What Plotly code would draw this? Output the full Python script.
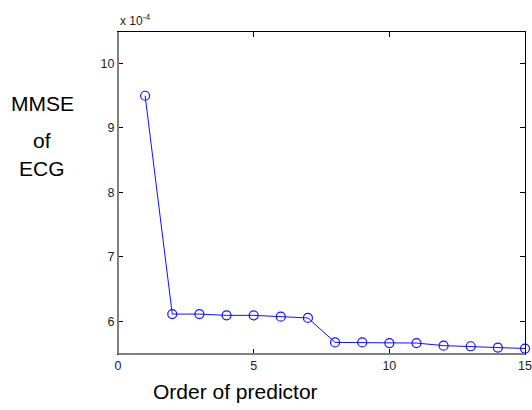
import plotly.graph_objects as go

# Order of predictor
order = list(range(1, 16))
# MMSE of ECG (in units of 1e-4)
mmse = [9.50, 6.11, 6.11, 6.09, 6.09, 6.07, 6.05, 5.67, 5.67, 5.66, 5.66, 5.62, 5.61, 5.59, 5.575]
x_ticks = [0, 5, 10, 15]
y_ticks = [6, 7, 8, 9, 10]

fig = go.Figure()
fig.add_trace(go.Scatter(
    x=order, y=mmse, mode="lines+markers",
    line=dict(color="#1010ff", width=1),
    marker=dict(symbol="circle-open", size=9, color="#1010ff", line=dict(width=1.2)),
    cliponaxis=False, showlegend=False,
))

axis_common = dict(
    showgrid=False, zeroline=False, showline=True, linecolor="black", linewidth=1,
    mirror="ticks", ticks="inside", ticklen=5, tickcolor="black", tickwidth=1,
    automargin=False,
    tickfont=dict(family="Arial, Liberation Sans, sans-serif", size=12.5, color="#222"),
)
fig.update_xaxes(range=[0, 15], tickvals=x_ticks, **axis_common)
fig.update_yaxes(range=[5.49, 10.49], tickvals=y_ticks, **axis_common)

# gray left/bottom axis lines
fig.add_shape(type="line", xref="paper", yref="paper", x0=0, x1=0, y0=0, y1=1,
              line=dict(color="#808080", width=2))
fig.add_shape(type="line", xref="paper", yref="paper", x0=0, x1=1, y0=0, y1=0,
              line=dict(color="#808080", width=2))

font_lbl = "Arial, Liberation Sans, sans-serif"
ann = []
ann.append(dict(text="x 10<sup>-4</sup>", xref="paper", yref="paper", x=0, y=1, xanchor="left",
                yanchor="bottom", yshift=2, showarrow=False,
                font=dict(family=font_lbl, size=12, color="#222")))
for txt, yy in [("MMSE", 103), ("of", 140), ("ECG", 168)]:
    ann.append(dict(text=txt, xref="paper", yref="paper",
                    x=(42 - 118) / (525 - 118), y=1 - (yy - 32) / (354 - 32),
                    xanchor="center", yanchor="middle", showarrow=False,
                    font=dict(family=font_lbl, size=21, color="black")))
ann.append(dict(text="Order of predictor", xref="paper", yref="paper",
                x=(235 - 118) / (525 - 118), y=-(392 - 354) / (354 - 32),
                xanchor="center", yanchor="middle", showarrow=False,
                font=dict(family=font_lbl, size=21, color="black")))

fig.update_layout(
    width=532, height=410,
    margin=dict(l=118, r=7, t=32, b=56),
    paper_bgcolor="white", plot_bgcolor="white",
    annotations=ann,
)

fig.write_html("out.html", config={"displayModeBar": False},
               post_script="document.body.style.margin='0';")
